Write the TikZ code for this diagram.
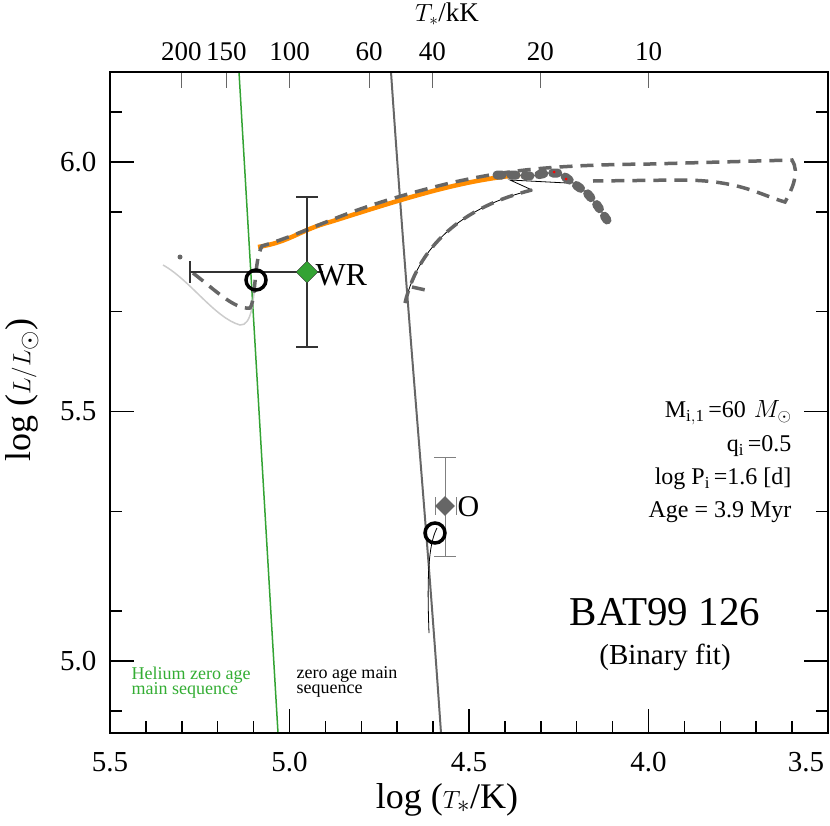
\documentclass[tikz,border=0pt]{standalone}
\usepackage{fontspec}
\setmainfont{Liberation Serif}
\usetikzlibrary{shapes.geometric}
\begin{document}
\begin{tikzpicture}[x=1pt,y=-1pt,
  ticklab/.style={font=\fontsize{29}{32}\selectfont},
  trk/.style={line width=3.5pt,draw=black!60,dash pattern=on 13pt off 8pt},
  blob/.style={line width=9pt,draw=black!60,line cap=round,dash pattern=on 5pt off 9pt},
  ann/.style={font=\fontsize{24}{28}\selectfont,anchor=east},
  zams/.style={font=\fontsize{18}{19}\selectfont,align=left,anchor=north west}]
\useasboundingbox (0,0) rectangle (830,825);
% ZAMS lines
\draw[green!55!black!80,line width=1.5pt] (239,72) -- (278,733);
\draw[black!60,line width=2pt] (391,72) .. controls (410,350) and (425,500) .. (441,733);
% ticks
\foreach \v in {5.4,5.3,...,3.55}{\draw[line width=1.5pt] ({110+(5.5-\v)*359},733) -- ++(0,-12);}
\foreach \v in {5.0,4.5,4.0}{\draw[line width=1.5pt] ({110+(5.5-\v)*359},733) -- ++(0,-24);}
\foreach \v in {4.9,5.1,...,6.15}{\draw[line width=1.5pt] (110,{162+(6-\v)*499}) -- ++(12,0);
  \draw[line width=1.5pt] (828,{162+(6-\v)*499}) -- ++(-12,0);}
\foreach \v in {5.0,5.5,6.0}{\draw[line width=1.5pt] (110,{162+(6-\v)*499}) -- ++(24,0);
  \draw[line width=1.5pt] (828,{162+(6-\v)*499}) -- ++(-24,0);}
\foreach \t in {200,150,100,60,40,20,10}{\pgfmathsetmacro\xx{110+(2.5-log10(\t))*359}
  \draw[black!60,line width=0.8pt] (\xx,72) -- ++(0,16);
  \node[font=\fontsize{27}{30}\selectfont] at (\xx,52) {\t};}
\foreach \v/\l in {5.5/5.5,5.0/5.0,4.5/4.5,4.0/4.0}{\node[ticklab] at ({110+(5.5-\v)*359},762) {\l};}
\node[ticklab] at (806,762) {3.5};
\foreach \v/\l in {6.0/6.0,5.5/5.5,5.0/5.0}{\node[ticklab,anchor=east] at (100,{162+(6-\v)*499}) {\l};}
\node[font=\fontsize{36}{40}\selectfont] (xl) at (447,800) {log ($T_*$/K)};
\node[font=\fontsize{36}{40}\selectfont,rotate=90] (yl) at (22,390) {log ($L/L_\odot$)};
\node[font=\fontsize{27}{30}\selectfont] (tl) at (447,14) {$T_*$/kK};
% tracks
\draw[black!20,line width=1.5pt] (163,265) .. controls (190,280) and (215,318) .. (240,325) .. controls (252,326) and (253,300) .. (255,285);
\draw[black,line width=0.8pt] (429,633) .. controls (427,580) and (428,545) .. (437,528);
\draw[black,line width=0.8pt] (405,303) .. controls (420,240) and (470,205) .. (532,190) -- (510,180) -- (567,183);
\draw[trk] (405,303) .. controls (420,240) and (470,205) .. (532,190);
\draw[trk] (412,287) -- (430,291);
\draw[orange!90!yellow,line width=4.5pt] (258,247) .. controls (290,242) and (300,230) .. (330,222) .. controls (400,200) and (460,180) .. (520,175);
\fill[black!60] (180,257) circle (2.5);
\draw[trk] (193,273) .. controls (215,290) and (235,310) .. (250,308) .. controls (256,300) and (254,260) .. (262,246) .. controls (320,228) and (340,210) .. (450,183) .. controls (500,172) and (540,165) .. (650,164) -- (792,160) .. controls (800,172) and (792,190) .. (785,202) .. controls (760,195) and (740,180) .. (680,180) -- (593,181);
\draw[blob] (497,175) -- (513,175) -- (532,176) -- (547,173) -- (560,173) -- (573,183) -- (587,193) -- (597,205) -- (607,220);
\fill[red] (554,172) circle (1.5);
\fill[red] (566,179) circle (1.5);
% WR
\draw[black!80,line width=1.5pt] (190,272) -- (323,272) (190,261) -- (190,283)
  (307,197) -- (307,347) (296,197) -- (318,197) (296,347) -- (318,347);
\node[draw=black!80,fill=green!55!black!80,diamond,minimum size=22pt,inner sep=0pt,shape aspect=1] (wr) at (307,272) {};
\node[font=\fontsize{32}{36}\selectfont,anchor=west] (wrl) at (312,275) {WR};
\node[draw,circle,line width=3.5pt,minimum size=20pt,inner sep=0pt] (c1) at (256,280) {};
% O
\draw[black!50,line width=1pt] (445,457) -- (445,556) (434,457) -- (456,457) (434,556) -- (456,556) (435,497) -- (435,515) (456,497) -- (456,515);
\node[fill=black!60,diamond,minimum size=20pt,inner sep=0pt] (os) at (445,506) {};
\node[font=\fontsize{30}{34}\selectfont,anchor=west] (ol) at (454,507) {O};
\node[draw,circle,line width=3.5pt,minimum size=20pt,inner sep=0pt] (c2) at (435,533) {};
% annotations
\node[ann] at (795,413) {M$_{\mathrm{i,1}}$\,=60\,\,$M_\odot$};
\node[ann] at (795,446) {q$_{\mathrm{i}}$\,=0.5};
\node[ann] at (795,479) {log P$_{\mathrm{i}}$\,=1.6 [d]};
\node[ann] at (795,512) {Age = 3.9 Myr};
\node[font=\fontsize{41}{45}\selectfont] at (665,612) {BAT99 126};
\node[font=\fontsize{29}{32}\selectfont] at (665,657) {(Binary fit)};
\node[zams,text=green!60!black!80] at (128,663) {Helium zero age\\[-4pt]main sequence};
\node[zams] at (293,663) {zero age main\\[-4pt]sequence};
\draw[line width=2.5pt] (110,72) rectangle (828,733);
\end{tikzpicture}
\end{document}
